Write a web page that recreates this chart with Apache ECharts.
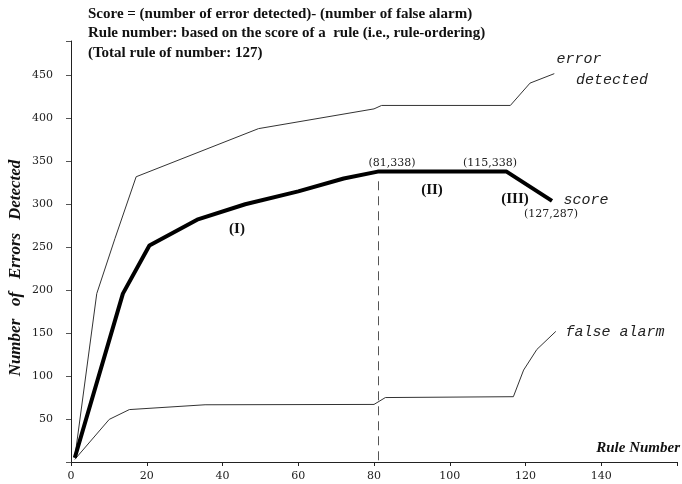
<!DOCTYPE html>
<html><head><meta charset="utf-8">
<script src="https://cdn.jsdelivr.net/npm/echarts@6/dist/echarts.min.js"></script>
<style>html,body{margin:0;padding:0;background:#fff}#c{width:682px;height:484px}</style>
</head><body><div id="c"></div>
<script>
// ---- data ----
const xTickLabels = [0, 20, 40, 60, 80, 100, 120, 140];
const yTickLabels = [50, 100, 150, 200, 250, 300, 350, 400, 450];
const scoreX = [1, 13.7, 20.7, 33.3, 46, 60, 72, 81, 115, 127];
const scoreY = [5, 196, 252, 282, 300, 315, 330, 338, 338, 304];
const errorX = [1, 6.8, 11.6, 17.2, 49.5, 80, 82, 116, 121.2, 127.6];
const errorY = [5, 196, 260, 332, 388, 411, 415, 415, 441, 452];
const falseX = [1, 10.1, 15.4, 35.4, 80, 83, 116.8, 119.5, 123, 128];
const falseY = [3, 49.6, 61, 66.6, 67, 75, 76, 107, 131, 152];
const cutRule = 81;
const cutScore = 328;
const titleLines = [
  'Score = (number of error detected)- (number of false alarm)',
  'Rule number: based on the score of a  rule (i.e., rule-ordering)',
  '(Total rule of number: 127)'
];

function pairs(xs, ys) { return xs.map((x, i) => [x, ys[i]]); }

const chart = echarts.init(document.getElementById('c'));
const serif = 'Liberation Serif';
const mono = 'Liberation Mono';
const tickFont = 'DejaVu Serif';

function txt(text, x, y, font, opts) {
  return {
    type: 'text', x: x, y: y,
    style: Object.assign({ text: text, font: font, fill: '#111', align: 'center', verticalAlign: 'middle' }, opts || {})
  };
}

const graphics = [];
titleLines.forEach((t, i) => graphics.push(txt(t, 88, 14 + i * 19.5, 'bold 15px ' + serif, { align: 'left' })));
graphics.push(txt('(81,338)', 392, 163, '11px ' + tickFont, { fill: '#222' }));
graphics.push(txt('(115,338)', 490, 163, '11px ' + tickFont, { fill: '#222' }));
graphics.push(txt('(127,287)', 551, 214, '11px ' + tickFont, { fill: '#222' }));
graphics.push(txt('(I)', 237, 229, 'bold 15px ' + serif));
graphics.push(txt('(II)', 432, 190, 'bold 15px ' + serif));
graphics.push(txt('(III)', 515, 199, 'bold 15px ' + serif));
graphics.push(txt('score', 586, 200, 'italic 15px ' + mono, { fill: '#222' }));
graphics.push(txt('error', 579, 59, 'italic 15px ' + mono, { fill: '#222' }));
graphics.push(txt('detected', 612, 80, 'italic 15px ' + mono, { fill: '#222' }));
graphics.push(txt('false alarm', 615, 332, 'italic 15px ' + mono, { fill: '#222' }));
graphics.push(txt('Rule Number', 680, 448, 'bold italic 15px ' + serif, { align: 'right' }));
graphics.push({
  type: 'text', x: 16, y: 268, rotation: Math.PI / 2,
  style: { text: 'Number   of   Errors   Detected', font: 'bold italic 17px ' + serif, fill: '#111', align: 'center', verticalAlign: 'middle' }
});

chart.setOption({
  animation: false,
  backgroundColor: '#fff',
  grid: { left: 71, right: 5, top: 41, bottom: 22 },
  xAxis: {
    type: 'value', min: 0, max: 160, interval: 20,
    axisLine: { lineStyle: { color: '#222', width: 1 } },
    axisTick: { show: true, length: 4, lineStyle: { color: '#222' } },
    axisLabel: { formatter: v => xTickLabels.includes(v) ? String(v) : '', fontFamily: tickFont, fontSize: 11, color: '#222', margin: 9 },
    splitLine: { show: false }
  },
  yAxis: {
    type: 'value', min: 0, max: 490, interval: 50,
    axisLine: { show: true, lineStyle: { color: '#222', width: 1 } },
    axisTick: { show: true, length: 5, lineStyle: { color: '#555' } },
    axisLabel: { formatter: v => yTickLabels.includes(v) ? String(v) : '', fontFamily: tickFont, fontSize: 11, color: '#222', margin: 18 },
    splitLine: { show: false }
  },
  series: [
    {
      name: 'error detected', type: 'line', data: pairs(errorX, errorY), symbol: 'none',
      lineStyle: { color: '#333', width: 1 }, z: 2
    },
    {
      name: 'false alarm', type: 'line', data: pairs(falseX, falseY), symbol: 'none',
      lineStyle: { color: '#333', width: 1 }, z: 2
    },
    {
      name: 'score', type: 'line', data: pairs(scoreX, scoreY), symbol: 'none',
      lineStyle: { color: '#000', width: 4 }, z: 3,
      markLine: {
        silent: true, symbol: 'none', label: { show: false },
        lineStyle: { color: '#555', width: 1, type: [9, 6] },
        data: [[{ coord: [cutRule, 2] }, { coord: [cutRule, cutScore] }]]
      }
    }
  ],
  graphic: graphics
});
</script></body></html>
